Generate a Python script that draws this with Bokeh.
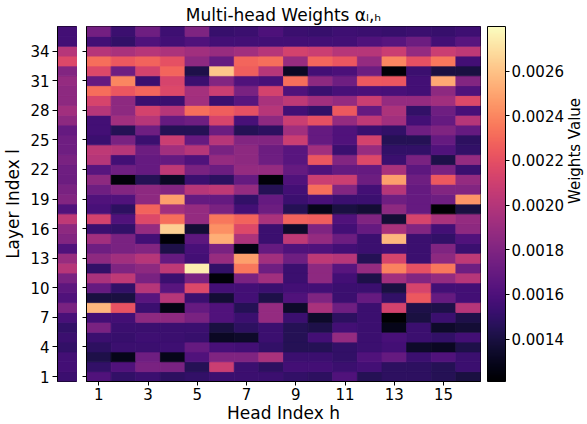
import math
from bokeh.plotting import figure
from bokeh.layouts import row
from bokeh.models import (LinearColorMapper, ColorBar, FixedTicker, LinearAxis,
                          ColumnDataSource, PrintfTickFormatter)
from bokeh.palettes import Magma256
from bokeh.embed import file_html
from bokeh.resources import INLINE

heads = list(range(1, 17))
layers = list(range(1, 37))
x_ticks = [1, 3, 5, 7, 9, 11, 13, 15]
y_ticks = [1, 4, 7, 10, 13, 16, 19, 22, 25, 28, 31, 34]
cbar_ticks = [0.0014, 0.0016, 0.0018, 0.0020, 0.0022, 0.0024, 0.0026]

# weights per layer (heads 1..16)
layer_01 = [0.00161, 0.00150, 0.00153, 0.00148, 0.00150, 0.00153, 0.00153, 0.00153, 0.00150, 0.00148, 0.00161, 0.00145, 0.00148, 0.00148, 0.00145, 0.00140]
layer_02 = [0.00150, 0.00161, 0.00177, 0.00177, 0.00145, 0.00208, 0.00153, 0.00148, 0.00156, 0.00156, 0.00153, 0.00156, 0.00148, 0.00148, 0.00145, 0.00153]
layer_03 = [0.00142, 0.00129, 0.00173, 0.00129, 0.00161, 0.00180, 0.00180, 0.00196, 0.00153, 0.00153, 0.00150, 0.00161, 0.00169, 0.00153, 0.00161, 0.00153]
layer_04 = [0.00148, 0.00153, 0.00153, 0.00154, 0.00169, 0.00158, 0.00156, 0.00150, 0.00145, 0.00145, 0.00150, 0.00153, 0.00156, 0.00134, 0.00131, 0.00142]
layer_05 = [0.00153, 0.00152, 0.00154, 0.00153, 0.00152, 0.00132, 0.00134, 0.00153, 0.00145, 0.00156, 0.00188, 0.00153, 0.00158, 0.00153, 0.00150, 0.00156]
layer_06 = [0.00177, 0.00153, 0.00153, 0.00153, 0.00153, 0.00140, 0.00148, 0.00153, 0.00145, 0.00142, 0.00156, 0.00153, 0.00129, 0.00153, 0.00134, 0.00137]
layer_07 = [0.00156, 0.00156, 0.00185, 0.00185, 0.00177, 0.00161, 0.00153, 0.00188, 0.00153, 0.00134, 0.00148, 0.00153, 0.00121, 0.00140, 0.00153, 0.00142]
layer_08 = [0.00256, 0.00221, 0.00153, 0.00127, 0.00169, 0.00161, 0.00145, 0.00188, 0.00134, 0.00196, 0.00173, 0.00153, 0.00212, 0.00142, 0.00142, 0.00201]
layer_09 = [0.00140, 0.00140, 0.00164, 0.00201, 0.00153, 0.00137, 0.00156, 0.00142, 0.00161, 0.00180, 0.00153, 0.00169, 0.00150, 0.00224, 0.00169, 0.00156]
layer_10 = [0.00169, 0.00150, 0.00201, 0.00164, 0.00216, 0.00156, 0.00156, 0.00153, 0.00156, 0.00156, 0.00153, 0.00153, 0.00140, 0.00213, 0.00156, 0.00156]
layer_11 = [0.00196, 0.00204, 0.00177, 0.00153, 0.00177, 0.00124, 0.00177, 0.00193, 0.00153, 0.00185, 0.00156, 0.00142, 0.00193, 0.00181, 0.00188, 0.00201]
layer_12 = [0.00150, 0.00180, 0.00185, 0.00204, 0.00275, 0.00150, 0.00235, 0.00173, 0.00153, 0.00185, 0.00164, 0.00188, 0.00239, 0.00220, 0.00235, 0.00173]
layer_13 = [0.00185, 0.00193, 0.00201, 0.00169, 0.00156, 0.00189, 0.00248, 0.00193, 0.00173, 0.00204, 0.00201, 0.00145, 0.00213, 0.00153, 0.00185, 0.00204]
layer_14 = [0.00173, 0.00177, 0.00181, 0.00142, 0.00158, 0.00177, 0.00126, 0.00169, 0.00161, 0.00161, 0.00156, 0.00153, 0.00156, 0.00153, 0.00180, 0.00153]
layer_15 = [0.00193, 0.00177, 0.00156, 0.00123, 0.00166, 0.00253, 0.00197, 0.00153, 0.00204, 0.00188, 0.00172, 0.00153, 0.00256, 0.00153, 0.00150, 0.00161]
layer_16 = [0.00153, 0.00150, 0.00188, 0.00264, 0.00137, 0.00243, 0.00216, 0.00153, 0.00134, 0.00180, 0.00156, 0.00169, 0.00196, 0.00181, 0.00156, 0.00185]
layer_17 = [0.00212, 0.00161, 0.00216, 0.00232, 0.00188, 0.00235, 0.00228, 0.00196, 0.00228, 0.00226, 0.00161, 0.00180, 0.00137, 0.00213, 0.00196, 0.00188]
layer_18 = [0.00158, 0.00148, 0.00228, 0.00193, 0.00188, 0.00177, 0.00156, 0.00172, 0.00145, 0.00129, 0.00140, 0.00137, 0.00185, 0.00169, 0.00121, 0.00140]
layer_19 = [0.00161, 0.00161, 0.00185, 0.00248, 0.00169, 0.00169, 0.00150, 0.00169, 0.00153, 0.00158, 0.00153, 0.00153, 0.00173, 0.00169, 0.00173, 0.00245]
layer_20 = [0.00173, 0.00181, 0.00185, 0.00181, 0.00201, 0.00204, 0.00188, 0.00145, 0.00156, 0.00232, 0.00181, 0.00156, 0.00201, 0.00169, 0.00181, 0.00181]
layer_21 = [0.00185, 0.00124, 0.00145, 0.00132, 0.00153, 0.00148, 0.00169, 0.00124, 0.00161, 0.00208, 0.00208, 0.00172, 0.00248, 0.00173, 0.00224, 0.00188]
layer_22 = [0.00164, 0.00173, 0.00169, 0.00204, 0.00177, 0.00172, 0.00188, 0.00188, 0.00169, 0.00161, 0.00169, 0.00169, 0.00196, 0.00166, 0.00177, 0.00153]
layer_23 = [0.00201, 0.00156, 0.00169, 0.00169, 0.00161, 0.00188, 0.00185, 0.00173, 0.00164, 0.00223, 0.00181, 0.00216, 0.00153, 0.00177, 0.00142, 0.00188]
layer_24 = [0.00204, 0.00201, 0.00172, 0.00193, 0.00201, 0.00177, 0.00185, 0.00172, 0.00164, 0.00193, 0.00153, 0.00189, 0.00150, 0.00150, 0.00161, 0.00150]
layer_25 = [0.00153, 0.00177, 0.00153, 0.00208, 0.00169, 0.00201, 0.00181, 0.00181, 0.00208, 0.00169, 0.00161, 0.00212, 0.00145, 0.00145, 0.00169, 0.00148]
layer_26 = [0.00156, 0.00145, 0.00173, 0.00145, 0.00145, 0.00172, 0.00145, 0.00148, 0.00193, 0.00169, 0.00161, 0.00153, 0.00150, 0.00173, 0.00180, 0.00169]
layer_27 = [0.00156, 0.00193, 0.00201, 0.00169, 0.00173, 0.00213, 0.00158, 0.00185, 0.00208, 0.00220, 0.00188, 0.00204, 0.00193, 0.00156, 0.00169, 0.00201]
layer_28 = [0.00201, 0.00185, 0.00212, 0.00201, 0.00232, 0.00226, 0.00220, 0.00201, 0.00156, 0.00150, 0.00224, 0.00169, 0.00197, 0.00150, 0.00173, 0.00158]
layer_29 = [0.00213, 0.00185, 0.00153, 0.00153, 0.00193, 0.00153, 0.00164, 0.00196, 0.00204, 0.00193, 0.00188, 0.00208, 0.00188, 0.00188, 0.00193, 0.00216]
layer_30 = [0.00232, 0.00223, 0.00229, 0.00216, 0.00194, 0.00208, 0.00177, 0.00212, 0.00161, 0.00153, 0.00158, 0.00159, 0.00158, 0.00156, 0.00185, 0.00161]
layer_31 = [0.00169, 0.00240, 0.00153, 0.00213, 0.00153, 0.00181, 0.00161, 0.00158, 0.00232, 0.00185, 0.00173, 0.00224, 0.00223, 0.00156, 0.00251, 0.00181]
layer_32 = [0.00216, 0.00173, 0.00212, 0.00229, 0.00142, 0.00261, 0.00226, 0.00201, 0.00132, 0.00156, 0.00159, 0.00172, 0.00123, 0.00153, 0.00140, 0.00140]
layer_33 = [0.00232, 0.00224, 0.00228, 0.00220, 0.00185, 0.00169, 0.00229, 0.00232, 0.00189, 0.00229, 0.00223, 0.00188, 0.00240, 0.00220, 0.00235, 0.00156]
layer_34 = [0.00201, 0.00196, 0.00201, 0.00197, 0.00193, 0.00189, 0.00193, 0.00201, 0.00212, 0.00208, 0.00201, 0.00201, 0.00208, 0.00188, 0.00208, 0.00204]
layer_35 = [0.00156, 0.00150, 0.00161, 0.00156, 0.00161, 0.00156, 0.00156, 0.00156, 0.00156, 0.00156, 0.00156, 0.00161, 0.00164, 0.00172, 0.00156, 0.00164]
layer_36 = [0.00175, 0.00153, 0.00173, 0.00154, 0.00179, 0.00152, 0.00153, 0.00160, 0.00153, 0.00152, 0.00154, 0.00153, 0.00152, 0.00153, 0.00152, 0.00154]

# per-layer weights shown in the left strip (layers 1..36)
layer_strip = [0.00153, 0.00156, 0.00156, 0.00150, 0.00153, 0.00150, 0.00158, 0.00177, 0.00161, 0.00166,
               0.00177, 0.00201, 0.00189, 0.00161, 0.00181, 0.00185, 0.00204, 0.00161, 0.00181, 0.00177,
               0.00172, 0.00173, 0.00177, 0.00173, 0.00173, 0.00169, 0.00185, 0.00193, 0.00185, 0.00185,
               0.00188, 0.00181, 0.00216, 0.00201, 0.00156, 0.00156]

rows_by_layer = [layer_01, layer_02, layer_03, layer_04, layer_05, layer_06, layer_07, layer_08, layer_09,
                 layer_10, layer_11, layer_12, layer_13, layer_14, layer_15, layer_16, layer_17, layer_18,
                 layer_19, layer_20, layer_21, layer_22, layer_23, layer_24, layer_25, layer_26, layer_27,
                 layer_28, layer_29, layer_30, layer_31, layer_32, layer_33, layer_34, layer_35, layer_36]

xs, ys, vs = [], [], []
for lay, vals in zip(layers, rows_by_layer):
    for h, v in zip(heads, vals):
        xs.append(h)
        ys.append(lay)
        vs.append(v)
src = ColumnDataSource(dict(head=xs, layer=ys, w=vs))
strip_src = ColumnDataSource(dict(x=[0.5] * len(layers), layer=layers, w=layer_strip))

mapper = LinearColorMapper(palette=Magma256, low=0.00121, high=0.00280)
cmap = {"field": "w", "transform": mapper}

FONT = "DejaVu Sans"
FH = 355

# ---- left strip ----
p1 = figure(frame_width=20, frame_height=FH, x_range=(0, 1), y_range=(0.5, 36.5),
            output_backend="svg", toolbar_location=None,
            min_border_left=57, min_border_right=0, min_border_top=25, min_border_bottom=44)
p1.rect(x="x", y="layer", width=1, height=1, source=strip_src,
        fill_color=cmap, line_color=cmap, line_width=0.8)
p1.xaxis.visible = False
p1.grid.visible = False
p1.outline_line_color = "black"
p1.outline_line_width = 1
ya = p1.yaxis[0]
ya.ticker = FixedTicker(ticks=y_ticks)
ya.axis_label = "Layer Index l"
ya.axis_label_text_font = FONT
ya.axis_label_text_font_size = "17px"
ya.axis_label_text_font_style = "normal"
ya.axis_label_text_color = "black"
ya.axis_label_standoff = 4
ya.major_label_text_font = FONT
ya.major_label_text_font_size = "15px"
ya.major_label_text_color = "black"
ya.major_tick_out = 5
ya.major_tick_in = 0
ya.minor_tick_out = 0
ya.minor_tick_in = 0
ya.major_label_standoff = 3
ya.axis_line_color = "black"
ya.major_tick_line_color = "black"

# ---- main heatmap ----
p2 = figure(frame_width=394, frame_height=FH, x_range=(0.5, 16.5), y_range=(0.5, 36.5),
            output_backend="svg", toolbar_location=None,
            min_border_left=9, min_border_right=0, min_border_top=25, min_border_bottom=44,
            title="Multi-head Weights αₗ,ₕ")
p2.rect(x="head", y="layer", width=1, height=1, source=src,
        fill_color=cmap, line_color=cmap, line_width=0.8)
p2.grid.visible = False
p2.outline_line_color = "black"
p2.outline_line_width = 1
p2.title.align = "center"
p2.title.text_font = FONT
p2.title.text_font_size = "17px"
p2.title.text_font_style = "normal"
p2.title.text_color = "black"
p2.title.offset = 0
p2.title.standoff = 4

xa = p2.xaxis[0]
xa.ticker = FixedTicker(ticks=x_ticks)
xa.axis_label = "Head Index h"
xa.axis_label_text_font = FONT
xa.axis_label_text_font_size = "17px"
xa.axis_label_text_font_style = "normal"
xa.axis_label_text_color = "black"
xa.axis_label_standoff = 0
xa.major_label_text_font = FONT
xa.major_label_text_font_size = "15px"
xa.major_label_text_color = "black"
xa.major_tick_out = 4
xa.major_tick_in = 0
xa.minor_tick_out = 0
xa.minor_tick_in = 0
xa.major_label_standoff = 2
xa.axis_line_color = "black"
xa.major_tick_line_color = "black"

ya2 = p2.yaxis[0]
ya2.ticker = FixedTicker(ticks=y_ticks)
ya2.major_label_text_font_size = "1px"
ya2.major_label_text_alpha = 0
ya2.major_label_standoff = 0
ya2.major_tick_out = 4
ya2.major_tick_in = 0
ya2.minor_tick_out = 0
ya2.minor_tick_in = 0
ya2.axis_line_color = "black"
ya2.major_tick_line_color = "black"

cb = ColorBar(color_mapper=mapper, ticker=FixedTicker(ticks=cbar_ticks),
              formatter=PrintfTickFormatter(format="%.4f"),
              width=18, height=FH, padding=0, margin=0, location=(7, 0),
              major_tick_out=4, major_tick_in=0, minor_tick_out=0, minor_tick_in=0,
              major_tick_line_color="black", label_standoff=2,
              major_label_text_font=FONT, major_label_text_font_size="15px",
              major_label_text_color="black",
              bar_line_color="black", border_line_color=None, background_fill_color=None)
p2.add_layout(cb, "right")

# colour-bar title as a bare right-side axis label (reads bottom to top)
cb_axis = LinearAxis(ticker=FixedTicker(ticks=[]), axis_label="Weights Value",
                     axis_line_color=None, major_tick_line_color=None, minor_tick_line_color=None,
                     major_label_text_font_size="1px", major_label_text_alpha=0,
                     major_tick_out=0, major_tick_in=0, minor_tick_out=0, minor_tick_in=0,
                     major_label_standoff=0,
                     axis_label_text_font=FONT, axis_label_text_font_size="15px",
                     axis_label_text_font_style="normal", axis_label_text_color="black",
                     axis_label_standoff=8)
try:
    cb_axis.axis_label_orientation = math.pi / 2
except Exception:
    pass
p2.add_layout(cb_axis, "right")

layout = row(p1, p2)
open("out.html", "w").write(file_html(layout, INLINE))
